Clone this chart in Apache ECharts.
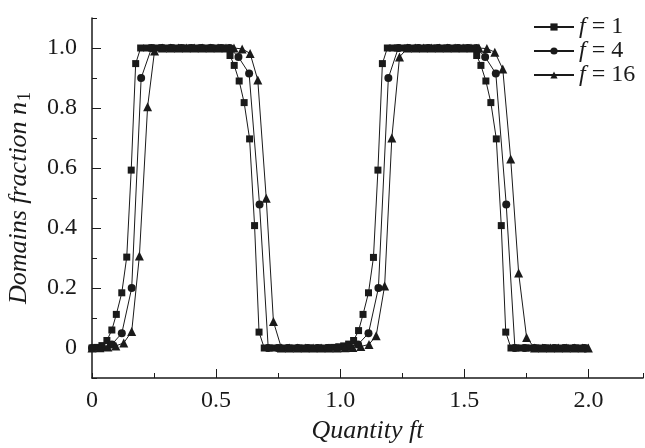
<!DOCTYPE html>
<html>
<head>
<meta charset="utf-8">
<script src="https://cdn.jsdelivr.net/npm/echarts@6/dist/echarts.min.js"></script>
<style>
html,body{margin:0;padding:0;background:#fff;}
#c{width:645px;height:448px;}
</style>
</head>
<body>
<div id="c"></div>
<script>
// ---- data ([ft, n1]) ----
const seriesNames = ['f = 1', 'f = 4', 'f = 16'];

const f1Points = [
  [0,0],[0.02,0.002],[0.04,0.008],[0.06,0.025],[0.08,0.06],[0.098,0.112],[0.12,0.184],[0.14,0.303],[0.158,0.593],[0.176,0.948],[0.196,1],
  [0.22,1],[0.24,1],[0.26,1],[0.28,1],[0.3,1],[0.32,1],[0.34,1],[0.36,1],[0.38,1],[0.4,1],[0.42,1],[0.44,1],[0.46,1],[0.48,1],[0.5,1],[0.52,1],[0.54,1],
  [0.556,0.975],[0.573,0.942],[0.593,0.89],[0.613,0.818],[0.635,0.697],[0.655,0.408],[0.673,0.053],[0.694,0],
  [0.714,0],[0.734,0],[0.754,0],[0.774,0],[0.794,0],[0.814,0],[0.834,0],[0.854,0],[0.874,0],[0.894,0],[0.914,0],[0.934,0],
  [0.954,0.001],[0.974,0.002],[0.994,0.004],[1.014,0.007],[1.034,0.013],[1.054,0.025],[1.074,0.058],[1.092,0.112],[1.114,0.184],[1.134,0.302],[1.152,0.593],[1.17,0.948],[1.19,1],
  [1.21,1],[1.23,1],[1.25,1],[1.27,1],[1.29,1],[1.31,1],[1.33,1],[1.35,1],[1.37,1],[1.39,1],[1.41,1],[1.43,1],[1.45,1],[1.47,1],[1.49,1],[1.51,1],[1.53,1],
  [1.55,0.975],[1.567,0.942],[1.587,0.89],[1.607,0.818],[1.629,0.697],[1.649,0.408],[1.667,0.053],[1.688,0],
  [1.708,0],[1.728,0],[1.748,0],[1.768,0],[1.788,0],[1.808,0],[1.828,0],[1.848,0],[1.868,0],[1.888,0],[1.908,0],[1.928,0],[1.948,0],[1.968,0],[1.988,0]
];

const f4Points = [
  [0,0],[0.04,0.002],[0.08,0.012],[0.12,0.049],[0.16,0.2],[0.198,0.9],[0.24,1],[0.28,1],[0.32,1],[0.36,1],[0.4,1],[0.44,1],[0.48,1],[0.52,1],[0.555,1],
  [0.59,0.97],[0.633,0.915],[0.675,0.478],[0.71,0],[0.75,0],[0.79,0],[0.83,0],[0.87,0],[0.91,0],[0.95,0],[0.99,0.001],[1.03,0.003],[1.072,0.012],
  [1.114,0.049],[1.154,0.2],[1.194,0.9],[1.234,1],[1.274,1],[1.314,1],[1.354,1],[1.394,1],[1.434,1],[1.474,1],[1.514,1],[1.549,1],
  [1.584,0.97],[1.627,0.915],[1.669,0.478],[1.704,0],[1.744,0],[1.784,0],[1.824,0],[1.864,0],[1.904,0],[1.944,0],[1.984,0]
];

const f16Points = [
  [0,0],[0.032,0.001],[0.064,0.003],[0.096,0.007],[0.128,0.017],[0.16,0.055],[0.191,0.307],[0.224,0.804],[0.252,0.99],
  [0.284,1],[0.316,1],[0.348,1],[0.38,1],[0.412,1],[0.444,1],[0.476,1],[0.508,1],[0.54,1],[0.572,1],
  [0.605,0.997],[0.637,0.982],[0.668,0.893],[0.702,0.499],[0.731,0.088],[0.763,0],
  [0.795,0],[0.827,0],[0.859,0],[0.891,0],[0.923,0],[0.955,0],[0.987,0],[1.019,0.001],[1.051,0.002],[1.083,0.005],
  [1.116,0.012],[1.145,0.041],[1.179,0.207],[1.208,0.7],[1.239,0.97],
  [1.271,1],[1.303,1],[1.335,1],[1.367,1],[1.399,1],[1.431,1],[1.463,1],[1.495,1],[1.527,1],[1.559,1],
  [1.591,0.998],[1.623,0.986],[1.655,0.93],[1.687,0.63],[1.719,0.25],[1.751,0.035],[1.783,0],
  [1.815,0],[1.847,0],[1.879,0],[1.911,0],[1.943,0],[1.975,0],[2.0,0]
];

const xLabelValues = [0, 0.5, 1.0, 1.5, 2.0];
const yLabelValues = [0, 0.2, 0.4, 0.6, 0.8, 1.0];

// ---- styling ----
const INK = '#1a1a1a';
const FONT = "'Liberation Serif', 'Times New Roman', serif";
const fmt = v => (Math.abs(v) < 1e-9 ? '0' : v.toFixed(1));

function lineSeries(name, symbol, size, pts) {
  return {
    name: name, type: 'line', data: pts,
    symbol: symbol, symbolSize: size, showSymbol: true,
    lineStyle: { color: INK, width: 1 },
    itemStyle: { color: INK },
    xAxisIndex: 0, yAxisIndex: 0,
    animation: false
  };
}

const chart = echarts.init(document.getElementById('c'));
chart.setOption({
  animation: false,
  backgroundColor: '#fff',
  grid: { left: 92, right: 2, top: 18, bottom: 70, containLabel: false, outerBoundsMode: 'none' },
  legend: {
    orient: 'vertical', left: 528, top: 10,
    itemWidth: 40, itemHeight: 9, itemGap: 0,
    data: seriesNames,
    formatter: name => '{i|f}{n|' + name.slice(1) + '}',
    textStyle: {
      color: INK, fontFamily: FONT, fontSize: 24, lineHeight: 22,
      rich: {
        i: { fontStyle: 'italic', fontFamily: FONT, fontSize: 24, color: INK, lineHeight: 22 },
        n: { fontFamily: FONT, fontSize: 24, color: INK, lineHeight: 22 }
      }
    }
  },
  xAxis: [
    {
      type: 'value', min: 0, max: 2.22, interval: 0.25, position: 'bottom',
      axisLine: { onZero: false, lineStyle: { color: INK, width: 1.5 } },
      axisTick: { inside: true, length: 5, lineStyle: { color: INK, width: 1 } },
      splitLine: { show: false },
      axisLabel: { customValues: xLabelValues, formatter: fmt, margin: 11, fontSize: 24, color: INK, fontFamily: FONT },
      name: 'Quantity ft', nameLocation: 'middle', nameGap: 31,
      nameTextStyle: { fontStyle: 'italic', fontSize: 26, color: INK, fontFamily: FONT }
    },
    {
      type: 'value', min: 0, max: 2.22, interval: 0.25, position: 'bottom',
      axisLine: { show: false, onZero: false },
      axisTick: { inside: true, length: 9, customValues: [0.5, 1.0, 1.5, 2.0], lineStyle: { color: INK, width: 1 } },
      axisLabel: { show: false }, splitLine: { show: false }
    }
  ],
  yAxis: [
    {
      type: 'value', min: -0.1, max: 1.1, interval: 0.1, position: 'left',
      axisLine: { onZero: false, lineStyle: { color: INK, width: 1.5 } },
      axisTick: { inside: true, length: 5, lineStyle: { color: INK, width: 1 } },
      splitLine: { show: false },
      axisLabel: { customValues: yLabelValues, formatter: fmt, margin: 15, fontSize: 24, color: INK, fontFamily: FONT },
      name: '{i|Domains fraction n}{s|1}', nameLocation: 'middle', nameGap: 58,
      nameTextStyle: {
        color: INK, fontFamily: FONT, fontSize: 26,
        rich: {
          i: { fontStyle: 'italic', fontFamily: FONT, fontSize: 26, color: INK, lineHeight: 28, verticalAlign: 'top' },
          s: { fontFamily: FONT, fontSize: 18, color: INK, lineHeight: 18, verticalAlign: 'bottom', padding: [14, 0, 0, 1] }
        }
      }
    },
    {
      type: 'value', min: -0.1, max: 1.1, interval: 0.1, position: 'left',
      axisLine: { show: false, onZero: false },
      axisTick: { inside: true, length: 9, customValues: [0, 0.2, 0.4, 0.6, 0.8, 1.0], lineStyle: { color: INK, width: 1 } },
      axisLabel: { show: false }, splitLine: { show: false }
    }
  ],
  series: [
    lineSeries(seriesNames[0], 'rect', 7, f1Points),
    lineSeries(seriesNames[1], 'circle', 8, f4Points),
    lineSeries(seriesNames[2], 'triangle', 9, f16Points)
  ]
});
</script>
</body>
</html>
